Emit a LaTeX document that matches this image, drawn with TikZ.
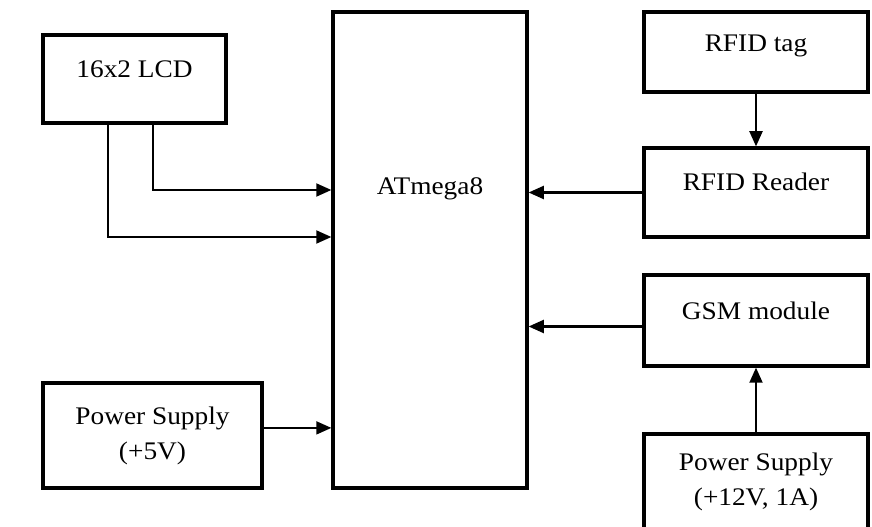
\documentclass[tikz,border=0pt]{standalone}
\usepackage{fontspec}
\setmainfont{Liberation Serif}[FakeStretch=1.08]
\usetikzlibrary{arrows.meta}

\begin{document}
\begin{tikzpicture}[>={Triangle[length=0.38cm,width=0.32cm]}, font=\fontsize{18}{25}\selectfont,
    block/.style={draw, line width=2.2pt, align=center, inner sep=0pt},
    link/.style={->, line width=1.8pt}]
    \useasboundingbox (0,0) rectangle (21.8,-13.175);

    % Blocks {lcd, atmega, ps5, tag, reader, gsm, ps12}
    \node [block, minimum width=4.575cm, minimum height=2.2cm, text depth=0.5cm]   (lcd)    at (3.3625,-1.975)  {16x2 LCD};
    \node [block, minimum width=4.85cm, minimum height=11.9cm, text depth=3.2cm]   (atmega) at (10.75,-6.25)    {ATmega8};
    \node [block, minimum width=5.475cm, minimum height=2.625cm]                   (ps5)    at (3.8125,-10.8875) {Power Supply\\(+5V)};
    \node [block, minimum width=5.6cm, minimum height=2.0cm, text depth=0.45cm]    (tag)    at (18.9,-1.3)      {RFID tag};
    \node [block, minimum width=5.6cm, minimum height=2.225cm, text depth=0.55cm]  (reader) at (18.9,-4.8125)   {RFID Reader};
    \node [block, minimum width=5.6cm, minimum height=2.275cm, text depth=0.5cm]   (gsm)    at (18.9,-8.0125)   {GSM module};
    \node [block, minimum width=5.6cm, minimum height=2.4cm]                       (ps12)   at (18.9,-12.05)    {Power Supply\\(+12V, 1A)};

    % Links
    \draw [link] ([xshift=0.4625cm]lcd.south) |- (atmega.west |- 0,-4.75);
    \draw [link] ([xshift=-0.6625cm]lcd.south) |- (atmega.west |- 0,-5.925);
    \draw [link] ([yshift=0.19cm]ps5.east) -- ([yshift=0.19cm]ps5.east -| atmega.west);
    \draw [link] (tag) -- (reader);
    \draw [link] (reader.west) -- (reader.west -| atmega.east);
    \draw [link] ([yshift=-0.15cm]gsm.west) -- ([yshift=-0.15cm]gsm.west -| atmega.east);
    \draw [link] (ps12) -- (gsm);
\end{tikzpicture}
\end{document}
